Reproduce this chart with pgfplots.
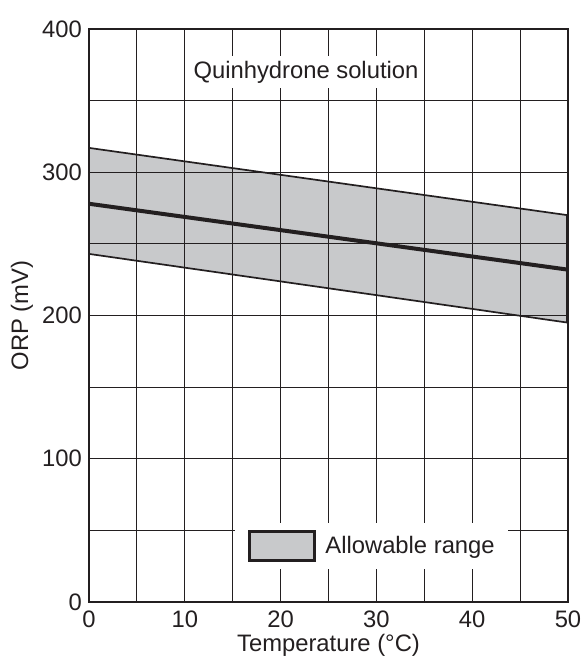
\documentclass[border=0pt]{standalone}
\usepackage{pgfplots}
\pgfplotsset{compat=1.18}
\usepackage{fontspec}
\setmainfont{Liberation Sans}
\definecolor{ink}{RGB}{35,31,32}
\definecolor{bandgray}{RGB}{200,201,203}
\begin{document}
\begin{tikzpicture}
\begin{axis}[
 name=ax, at={(0,0)}, anchor=south west,
 scale only axis, width=239.5pt, height=286.5pt,
 xmin=0, xmax=50, ymin=0, ymax=400,
 xtick={0,10,20,30,40,50}, minor xtick={5,15,25,35,45},
 ytick={0,100,200,300,400}, minor ytick={50,150,250,350},
 grid=both,
 major grid style={line width=0.5pt, draw=ink},
 minor grid style={line width=0.5pt, draw=ink},
 major tick length=0pt, minor tick length=0pt,
 axis line style={line width=1pt, draw=ink},
 axis on top,
 /pgf/number format/assume math mode=true,
 ticklabel style={font=\fontsize{11.9}{14}\selectfont, text=ink},
 xticklabel style={yshift=-1pt},
 xlabel={Temperature (°C)}, ylabel={ORP (mV)},
 label style={font=\fontsize{11.9}{14}\selectfont, text=ink},
 xlabel style={at={(axis description cs:0.5,-0.075)}, anchor=center},
 ylabel style={at={(axis description cs:-0.1399,0.5)}, anchor=center},
 legend style={at={(axis description cs:0.3048,0.1379)}, anchor=north west,
   draw=none, fill=white, inner xsep=6.5pt, inner ysep=3.5pt,
   font=\fontsize{11.9}{14}\selectfont, text=ink,
   nodes={inner sep=0pt}, column sep=4.5pt},
 legend image code/.code={\draw[line width=1.5pt, fill=bandgray, draw=ink] (0pt,-7.25pt) rectangle (32.5pt,7.25pt);},
]
\addplot[fill=bandgray, draw=ink, line width=0.85pt] coordinates {(0,317) (50,270) (50,195) (0,243)} -- cycle;
\addlegendentry{Allowable range}
\addplot[ink, line width=2pt, forget plot] coordinates {(0,278) (50,232)};
\addplot[ink, line width=1.6pt, forget plot] coordinates {(50,270) (50,195)};
\coordinate (qt) at (axis cs:22.65,370);
\end{axis}
\node[fill=white, inner xsep=2pt, inner ysep=2.5pt, text=ink, font=\fontsize{11.9}{14}\selectfont] at (qt) {Quinhydrone solution};
\pgfresetboundingbox
\path[use as bounding box] (-44.5pt,-28.5pt) rectangle (246pt,301pt);
\end{tikzpicture}
\end{document}
